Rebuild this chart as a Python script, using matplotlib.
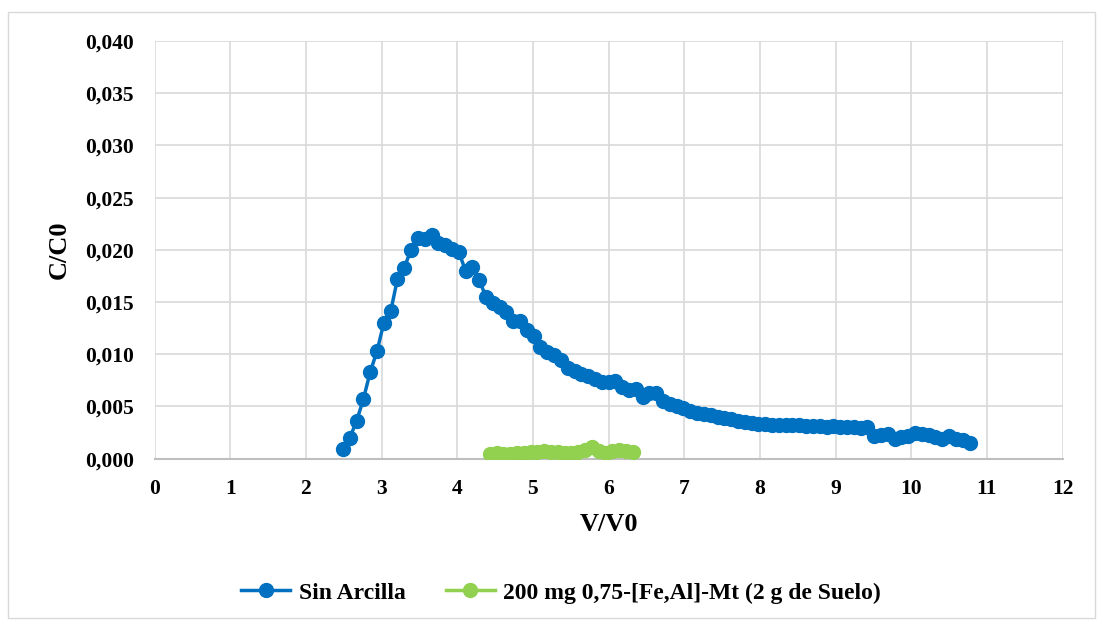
from matplotlib import pyplot as plt
from matplotlib.patches import Rectangle
from matplotlib.ticker import FuncFormatter

plt.rcParams['font.family'] = ['Liberation Serif', 'DejaVu Serif']
plt.rcParams['font.weight'] = 'bold'

# Sin Arcilla
sin_x = [2.49, 2.58, 2.67, 2.76, 2.85, 2.94, 3.03, 3.12, 3.21, 3.30,
         3.39, 3.48, 3.57, 3.66, 3.75, 3.84, 3.93, 4.02, 4.11, 4.20,
         4.29, 4.38, 4.47, 4.56, 4.65, 4.74, 4.83, 4.92, 5.01, 5.10,
         5.19, 5.28, 5.37, 5.46, 5.55, 5.64, 5.73, 5.82, 5.91, 6.00,
         6.09, 6.18, 6.27, 6.36, 6.45, 6.54, 6.63, 6.72, 6.81, 6.90,
         6.99, 7.08, 7.17, 7.26, 7.35, 7.44, 7.53, 7.62, 7.71, 7.80,
         7.89, 7.98, 8.07, 8.16, 8.25, 8.34, 8.43, 8.52, 8.61, 8.70,
         8.79, 8.88, 8.97, 9.06, 9.15, 9.24, 9.33, 9.42, 9.51, 9.60,
         9.69, 9.78, 9.87, 9.96, 10.05, 10.14, 10.23, 10.32, 10.41, 10.50,
         10.59, 10.68, 10.77]
sin_y = [0.0009, 0.0020, 0.0036, 0.0057, 0.0083, 0.0103, 0.0130, 0.0141, 0.0172, 0.0183,
         0.0200, 0.0211, 0.0210, 0.0214, 0.0207, 0.0205, 0.0201, 0.0198, 0.0180, 0.0184,
         0.0171, 0.0155, 0.0149, 0.0145, 0.0140, 0.0132, 0.0132, 0.0123, 0.0117, 0.0107,
         0.0102, 0.0099, 0.0094, 0.0087, 0.0084, 0.0081, 0.0079, 0.0076, 0.0073, 0.0073,
         0.0074, 0.0069, 0.0066, 0.0067, 0.0059, 0.0063, 0.0063, 0.0055, 0.0052, 0.0050,
         0.0048, 0.0046, 0.0044, 0.0043, 0.0042, 0.0040, 0.0039, 0.0038, 0.0036, 0.0035,
         0.0034, 0.0033, 0.0033, 0.0032, 0.0032, 0.0032, 0.0032, 0.0032, 0.0031, 0.0031,
         0.0031, 0.0030, 0.0031, 0.0030, 0.0030, 0.0030, 0.0029, 0.0030, 0.0022, 0.0023,
         0.0024, 0.0019, 0.0021, 0.0022, 0.0025, 0.0024, 0.0023, 0.0021, 0.0019, 0.0022,
         0.0019, 0.0018, 0.0015]

# 200 mg 0,75-[Fe,Al]-Mt (2 g de Suelo)
mt_x = [4.43, 4.52, 4.61, 4.70, 4.79, 4.88, 4.97, 5.06, 5.15, 5.24,
        5.33, 5.42, 5.51, 5.60, 5.69, 5.78, 5.87, 5.96, 6.05, 6.14,
        6.23, 6.32]
mt_y = [0.0004, 0.0005, 0.0004, 0.0004, 0.0005, 0.0005, 0.0006, 0.0006, 0.0007, 0.0006,
        0.0006, 0.0005, 0.0005, 0.0006, 0.0008, 0.0011, 0.0007, 0.0005, 0.0007, 0.0008,
        0.0007, 0.0006]

x_ticks = list(range(0, 13))
y_ticks = [0.000, 0.005, 0.010, 0.015, 0.020, 0.025, 0.030, 0.035, 0.040]

fig = plt.figure(figsize=(11, 6.22), dpi=100)
ax = fig.add_axes([0.1405, 0.2627, 0.8255, 0.6713])

ax.plot(sin_x, sin_y, color='#0070C0', lw=2.5, marker='o', ms=10, label='Sin Arcilla', zorder=3)
ax.plot(mt_x, mt_y, color='#92D050', lw=2.5, marker='o', ms=10,
        label='200 mg 0,75-[Fe,Al]-Mt (2 g de Suelo)', zorder=3)

ax.set_xlim(0, 12)
ax.set_ylim(0, 0.040)
ax.set_xticks(x_ticks)
ax.set_yticks(y_ticks)
ax.yaxis.set_major_formatter(FuncFormatter(lambda v, p: f'{v:.3f}'.replace('.', ',')))
ax.tick_params(length=0, labelsize=15.5, pad=15)
ax.grid(True, color='#D9D9D9', lw=1.2)
ax.set_axisbelow(True)
for s in ['top', 'right', 'left']:
    ax.spines[s].set_visible(False)
ax.spines['bottom'].set_color('#BFBFBF')
ax.spines['bottom'].set_linewidth(1.5)

ax.set_xlabel('V/V0', fontsize=19, fontweight='bold', labelpad=10)
ax.set_ylabel('C/C0', fontsize=19, fontweight='bold', labelpad=10)

fig.legend(loc='center', bbox_to_anchor=(0.51, 0.047), ncol=2, frameon=False,
           fontsize=17, handlelength=2.1, columnspacing=1.7, handletextpad=0.35)

fig.patches.append(Rectangle((8 / 1100, 4 / 622), 1087 / 1100, 606 / 622,
                             transform=fig.transFigure, fill=False,
                             edgecolor='#D9D9D9', lw=1))

plt.savefig('out.png')
